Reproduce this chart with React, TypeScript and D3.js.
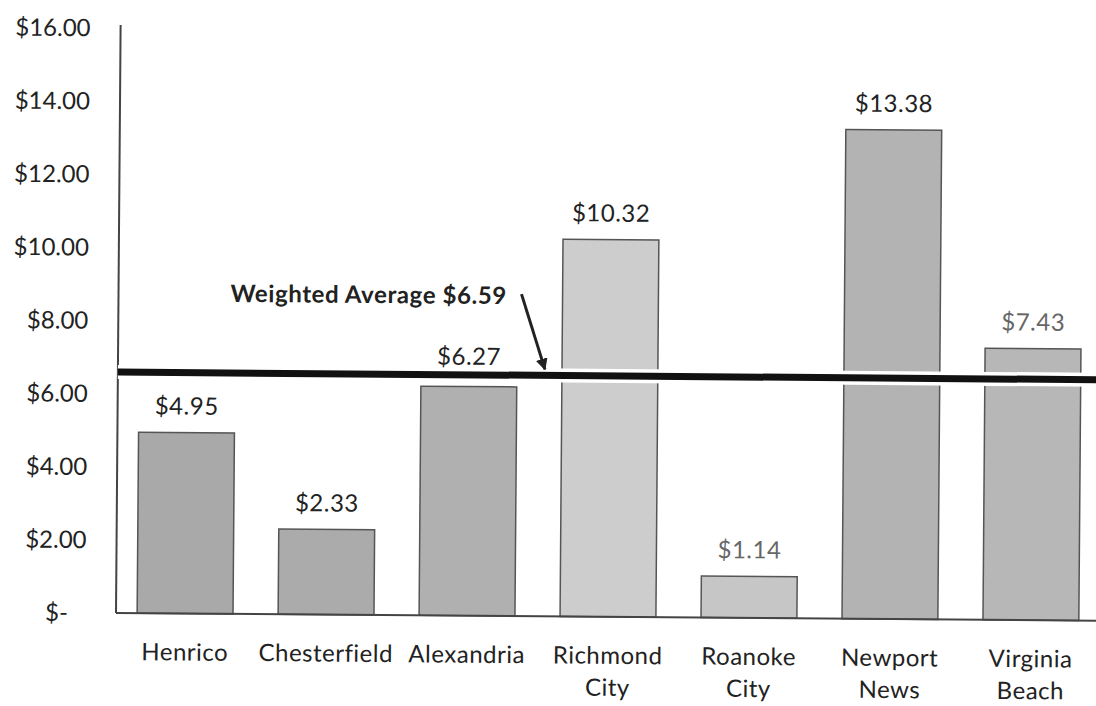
import * as d3 from "d3";
import { useEffect, useRef } from "react";

const categories = [
	["Henrico"],
	["Chesterfield"],
	["Alexandria"],
	["Richmond", "City"],
	["Roanoke", "City"],
	["Newport", "News"],
	["Virginia", "Beach"],
];
const values = [4.95, 2.33, 6.27, 10.32, 1.14, 13.38, 7.43];
const barColors = ["#a9a9a9", "#ababab", "#b0b0b0", "#cdcdcd", "#c6c6c6", "#b3b3b3", "#b7b7b7"];
const labelColors = ["#222", "#222", "#222", "#222", "#666", "#222", "#666"];
const yTicks = [0, 2, 4, 6, 8, 10, 12, 14, 16];
const weightedAverage = 6.59;

function App() {
	const ref = useRef<SVGSVGElement>(null);

	useEffect(() => {
		const root = d3.select(ref.current);
		root.selectAll("*").remove();

		const left = 116;
		const right = 1100;
		const top = 28;
		const bottom = 613;
		const font = "Lato, 'Open Sans', sans-serif";

		// the scanned original is tilted a little
		const svg = root.append("g").attr("transform", `rotate(0.45, ${left}, ${bottom})`);

		const names = categories.map((c) => c.join(" "));
		const x = d3
			.scaleBand()
			.domain(names)
			.range([left, right])
			.paddingInner(0.32)
			.paddingOuter(0.15);
		const y = d3.scaleLinear().domain([0, 16]).range([bottom, top]);
		const ay = y(weightedAverage);

		// y tick labels
		svg.append("g")
			.selectAll("text")
			.data(yTicks)
			.enter()
			.append("text")
			.attr("x", (d) => (d === 0 ? 68 : 86))
			.attr("y", (d) => y(d))
			.attr("dy", "0.35em")
			.attr("text-anchor", "end")
			.attr("font-family", font)
			.attr("font-size", 24)
			.attr("fill", "#222")
			.text((d) => (d === 0 ? "$-" : d3.format("$.2f")(d)));

		// bars
		svg.append("g")
			.selectAll("rect")
			.data(values)
			.enter()
			.append("rect")
			.attr("x", (d, i) => x(names[i]) as number)
			.attr("y", (d) => y(d))
			.attr("width", x.bandwidth())
			.attr("height", (d) => bottom - y(d))
			.attr("fill", (d, i) => barColors[i])
			.attr("stroke", "#555")
			.attr("stroke-width", 1.5);

		// value labels (moved above the average line when they would hit it)
		svg.append("g")
			.selectAll("text")
			.data(values)
			.enter()
			.append("text")
			.attr("x", (d, i) => (x(names[i]) as number) + x.bandwidth() / 2)
			.attr("y", (d) => {
				const ly = y(d) - 18;
				const hits = ly + 4 > ay - 8 && ly - 18 < ay + 8;
				return hits ? ay - 10 : ly;
			})
			.attr("text-anchor", "middle")
			.attr("font-family", font)
			.attr("font-size", 24)
			.attr("letter-spacing", 0.5)
			.attr("fill", (d, i) => labelColors[i])
			.text((d) => d3.format("$.2f")(d));

		// axes
		svg.append("line")
			.attr("x1", left)
			.attr("x2", left)
			.attr("y1", 25)
			.attr("y2", bottom)
			.attr("stroke", "#444")
			.attr("stroke-width", 2);
		svg.append("line")
			.attr("x1", left)
			.attr("x2", 1100)
			.attr("y1", bottom)
			.attr("y2", bottom)
			.attr("stroke", "#444")
			.attr("stroke-width", 2);

		// category labels
		const cat = svg
			.append("g")
			.selectAll("text")
			.data(categories)
			.enter()
			.append("text")
			.attr("x", (d, i) => (x(names[i]) as number) + x.bandwidth() / 2)
			.attr("y", 660)
			.attr("text-anchor", "middle")
			.attr("font-family", font)
			.attr("font-size", 24)
			.attr("letter-spacing", 0.5)
			.attr("fill", "#222");
		cat.selectAll("tspan")
			.data((d) => d)
			.enter()
			.append("tspan")
			.attr("x", function () {
				return (this.parentNode as SVGTextElement).getAttribute("x");
			})
			.attr("dy", (d, i) => (i === 0 ? 0 : 32))
			.text((d) => d);

		// weighted average line
		svg.append("line")
			.attr("x1", left)
			.attr("x2", 1100)
			.attr("y1", ay)
			.attr("y2", ay)
			.attr("stroke", "#fff")
			.attr("stroke-width", 14);
		svg.append("line")
			.attr("x1", left)
			.attr("x2", 1100)
			.attr("y1", ay)
			.attr("y2", ay)
			.attr("stroke", "#111")
			.attr("stroke-width", 7);

		// annotation
		svg.append("text")
			.attr("x", 228)
			.attr("y", 301)
			.attr("font-family", font)
			.attr("font-size", 24)
			.attr("font-weight", "bold")
			.attr("letter-spacing", 0.6)
			.attr("fill", "#222")
			.text("Weighted Average " + d3.format("$.2f")(weightedAverage));

		root.append("defs")
			.append("marker")
			.attr("id", "arrow")
			.attr("viewBox", "0 0 10 10")
			.attr("refX", 9)
			.attr("refY", 5)
			.attr("markerWidth", 4)
			.attr("markerHeight", 4)
			.attr("orient", "auto")
			.append("path")
			.attr("d", "M0,0L10,5L0,10Z")
			.attr("fill", "#222");
		svg.append("line")
			.attr("x1", 519)
			.attr("y1", 291)
			.attr("x2", 543)
			.attr("y2", ay - 6)
			.attr("stroke", "#222")
			.attr("stroke-width", 3)
			.attr("marker-end", "url(#arrow)");
	}, []);

	return (
		<svg
			ref={ref}
			width={1096}
			height={706}
			style={{ position: "absolute", left: 0, top: 0, background: "#fff" }}
		></svg>
	);
}

export default App;
